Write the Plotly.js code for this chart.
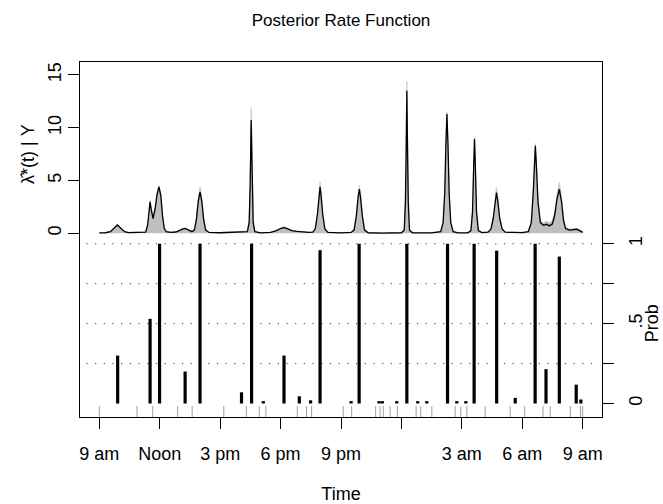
<!DOCTYPE html>
<html>
<head>
<meta charset="utf-8">
<script src="https://cdn.plot.ly/plotly-3.0.1.min.js"></script>
<style>html,body{margin:0;padding:0;background:#fff;}#chart{width:663px;height:504px;}</style>
</head>
<body>
<div id="chart"></div>
<script>
// Hours after 9 am (day 1)
const timeGrid = [0.0,0.3,0.55,0.72,0.9,1.08,1.25,1.45,1.9,2.3,2.4,2.47,2.52,2.58,2.67,2.77,2.87,2.96,3.05,3.14,3.22,3.32,3.55,3.8,4.0,4.15,4.26,4.42,4.6,4.72,4.82,4.91,5.0,5.09,5.18,5.28,5.45,6.0,6.6,7.1,7.35,7.44,7.49,7.54,7.59,7.64,7.72,8.0,8.5,8.8,9.0,9.18,9.35,9.55,9.8,10.1,10.4,10.6,10.72,10.83,10.9,10.96,11.02,11.09,11.2,11.35,12.0,12.5,12.65,12.76,12.85,12.91,12.97,13.06,13.17,13.35,14.0,15.0,15.14,15.2,15.24,15.27,15.3,15.34,15.4,15.55,16.5,16.95,17.07,17.15,17.21,17.26,17.31,17.37,17.45,17.57,17.8,18.3,18.45,18.53,18.59,18.63,18.67,18.73,18.82,19.0,19.3,19.45,19.56,19.65,19.72,19.79,19.88,20.0,20.15,20.6,21.0,21.3,21.45,21.55,21.61,21.65,21.7,21.78,21.9,22.05,22.2,22.35,22.5,22.62,22.72,22.84,22.95,23.05,23.15,23.35,23.55,23.7,23.85,24.0];
const rateMean = [0.03,0.05,0.15,0.45,0.79,0.45,0.15,0.06,0.05,0.1,0.8,2.3,2.97,2.2,1.4,2.3,3.7,4.4,3.6,1.6,0.5,0.15,0.08,0.12,0.3,0.42,0.45,0.3,0.15,0.3,1.3,3.0,3.93,3.0,1.3,0.3,0.08,0.05,0.08,0.1,0.15,1.0,4.5,10.73,4.5,1.0,0.15,0.04,0.08,0.25,0.45,0.54,0.42,0.25,0.18,0.12,0.08,0.1,0.4,1.8,3.4,4.4,3.4,1.8,0.4,0.08,0.03,0.08,0.3,1.6,3.4,4.18,3.4,1.6,0.3,0.05,0.02,0.05,0.3,3.0,8.5,13.5,8.5,3.0,0.3,0.04,0.03,0.15,1.0,3.8,8.5,11.3,8.5,3.8,1.0,0.15,0.04,0.04,0.25,2.0,6.5,8.93,6.5,2.0,0.25,0.06,0.1,0.4,1.4,3.0,3.86,3.0,1.4,0.4,0.1,0.08,0.06,0.15,1.0,4.0,7.2,8.3,6.5,3.0,1.0,0.75,0.85,0.7,0.9,1.8,3.2,4.18,3.0,1.2,0.45,0.3,0.35,0.38,0.25,0.08];
const rateUpper = [0.05,0.07,0.18,0.5,0.85,0.5,0.18,0.08,0.07,0.12,0.9,2.45,3.1,2.4,1.6,2.5,3.85,4.55,3.8,1.8,0.6,0.2,0.1,0.15,0.33,0.46,0.5,0.35,0.2,0.4,1.5,3.3,4.4,3.3,1.5,0.4,0.1,0.07,0.1,0.12,0.2,1.3,5.0,11.9,5.0,1.3,0.2,0.06,0.1,0.3,0.52,0.65,0.5,0.3,0.22,0.15,0.1,0.12,0.5,2.0,3.8,4.9,3.8,2.0,0.5,0.1,0.05,0.1,0.4,1.8,3.7,4.5,3.7,1.8,0.4,0.08,0.04,0.07,0.4,3.5,9.2,14.4,9.2,3.5,0.4,0.06,0.05,0.2,1.1,4.0,8.7,11.5,8.7,4.0,1.1,0.2,0.06,0.06,0.3,2.1,6.7,9.1,6.7,2.1,0.3,0.08,0.12,0.5,1.6,3.4,4.37,3.4,1.6,0.5,0.12,0.1,0.08,0.2,1.1,4.2,7.4,8.5,6.8,3.3,1.2,1.0,1.15,1.0,1.2,2.1,3.6,4.8,3.4,1.4,0.6,0.4,0.45,0.5,0.35,0.12];

// Change-point probabilities
const cpTime = [0.91,2.52,2.99,4.26,5.0,7.06,7.56,8.14,9.17,9.93,10.49,10.96,12.5,12.9,13.89,14.05,14.77,15.27,15.81,16.26,17.29,17.75,18.2,18.61,19.73,20.65,21.64,22.18,22.84,23.68,23.91];
const cpProb = [0.3,0.53,1.0,0.2,1.0,0.07,1.0,0.015,0.3,0.045,0.02,0.96,0.015,1.0,0.015,0.015,0.015,1.0,0.015,0.015,1.0,0.015,0.015,1.0,0.957,0.035,1.0,0.215,0.92,0.118,0.025];

// Observation times (rug)
const rugTime = [0.0,1.87,2.65,3.89,4.61,6.18,7.3,7.94,8.27,9.83,10.29,10.54,12.11,12.53,13.72,13.94,14.1,14.44,14.8,15.73,15.96,16.51,17.67,17.95,18.25,19.16,20.4,21.12,22.03,22.39,23.39,23.89,24.0];

const xTickVals = [0,3,6,9,12,15,18,21,24];
const xTickText = ['9 am','Noon','3 pm','6 pm','9 pm','','3 am','6 am','9 am'];
const rateTickVals = [0,5,10,15];
const probTickVals = [0,0.25,0.5,0.75,1];
const probTickText = ['0','','.5','','1'];
const probGrid = [0.25,0.5,0.75,1];

// build segment coordinates
const barX = [], barY = [];
cpTime.forEach((t,i)=>{ barX.push(t,t,null); barY.push(0,cpProb[i],null); });
const RUG_LO = -0.0845, RUG_HI = -0.0157;
const rugX = [], rugY = [];
rugTime.forEach(t=>{ rugX.push(t,t,null); rugY.push(RUG_LO,RUG_HI,null); });

const FONT = 'Liberation Sans, Arial, Helvetica, sans-serif';
const FS = 18;

const traces = [
  {x: timeGrid, y: rateUpper, type:'scatter', mode:'lines', fill:'tozeroy',
   fillcolor:'#bfbfbf', line:{color:'#cfcfcf', width:1}, xaxis:'x', yaxis:'y', hoverinfo:'skip'},
  {x: timeGrid, y: rateMean, type:'scatter', mode:'lines',
   line:{color:'#000', width:1.3}, xaxis:'x', yaxis:'y', hoverinfo:'skip'},
  {x: barX, y: barY, type:'scatter', mode:'lines', line:{color:'#000', width:3.2},
   xaxis:'x', yaxis:'y2', hoverinfo:'skip'},
  {x: rugX, y: rugY, type:'scatter', mode:'lines', line:{color:'#a0a0a0', width:1},
   xaxis:'x', yaxis:'y2', hoverinfo:'skip'}
];

const shapes = probGrid.map(p=>({type:'line', xref:'paper', yref:'y2', x0:0.012, x1:0.99, y0:p, y1:p,
  line:{color:'#444', width:1, dash:'1.3px,7.4px'}, layer:'below'}));

const layout = {
  width:663, height:504,
  margin:{l:80, r:61, t:62, b:87},
  paper_bgcolor:'#fff', plot_bgcolor:'#fff',
  showlegend:false,
  font:{family:FONT, size:FS, color:'#000'},
  title:{text:'Posterior Rate Function', x:0.5, xref:'paper', y:0.96, yanchor:'middle', font:{family:FONT, size:17, color:'#000'}},
  xaxis:{range:[-0.96,24.96], tickvals:xTickVals, ticktext:xTickText, ticks:'outside', ticklen:11,
    tickcolor:'#000', tickwidth:1, showline:true, mirror:true, linecolor:'#000', linewidth:1,
    showgrid:false, zeroline:false, tickfont:{family:FONT, size:FS, color:'#000'}, ticklabelstandoff:9,
    title:{text:'Time', font:{family:FONT, size:FS, color:'#000'}, standoff:28}},
  yaxis:{range:[-17.41,16.23], tickvals:rateTickVals, ticks:'outside', ticklen:11, tickcolor:'#000',
    showline:true, mirror:true, linecolor:'#000', linewidth:1, showgrid:false, zeroline:false,
    tickangle:-90, tickfont:{family:FONT, size:FS, color:'#000'}, ticklabelstandoff:0},
  yaxis2:{range:[-0.0845,2.138], overlaying:'y', side:'right', tickvals:probTickVals, ticktext:probTickText,
    ticks:'outside', ticklen:11, tickcolor:'#000', showline:false, showgrid:false, zeroline:false,
    tickangle:-90, tickfont:{family:FONT, size:FS, color:'#000'}, ticklabelstandoff:6},
  shapes: shapes,
  annotations:[
    {text:'λ\u0302*(t) | Y', xref:'paper', yref:'y', x:-0.1, y:7.5, xanchor:'center', yanchor:'middle',
     textangle:-90, showarrow:false, font:{family:FONT, size:FS, color:'#000'}},
    {text:'Prob', xref:'paper', yref:'y2', x:1.095, y:0.5, xanchor:'center', yanchor:'middle',
     textangle:-90, showarrow:false, font:{family:FONT, size:FS, color:'#000'}}
  ]
};

Plotly.newPlot('chart', traces, layout, {staticPlot:true, displayModeBar:false});
</script>
</body>
</html>
